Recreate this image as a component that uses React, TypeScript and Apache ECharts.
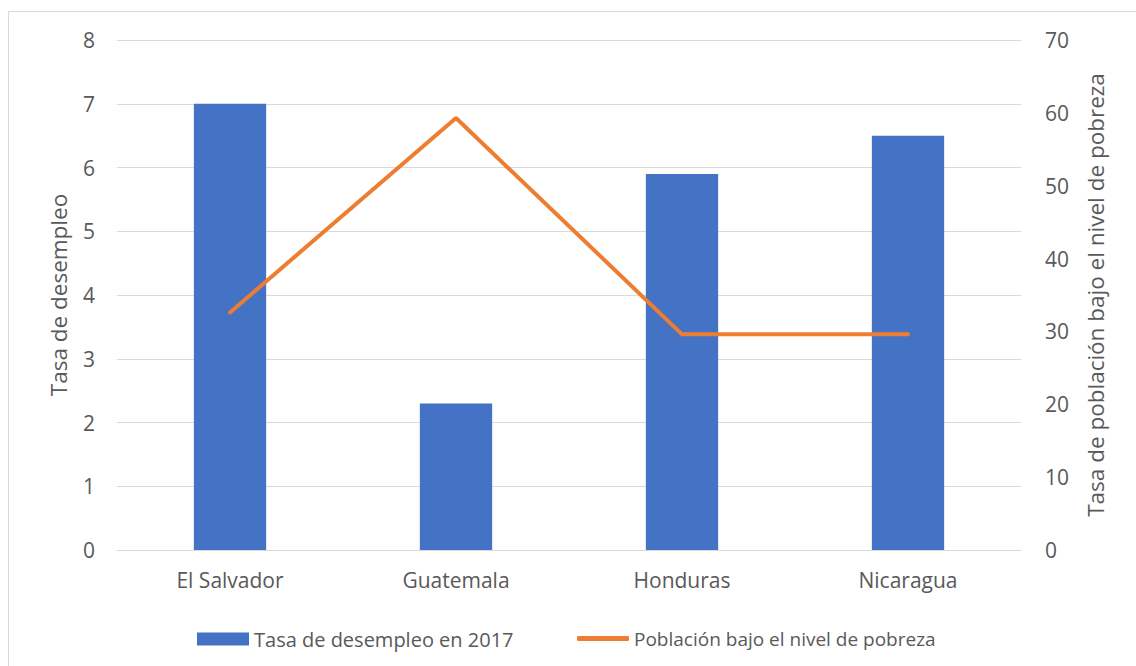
import React, { useEffect, useRef } from "react";
import * as echarts from "echarts";

const categories = ["El Salvador", "Guatemala", "Honduras", "Nicaragua"];
const desempleo = [7, 2.3, 5.9, 6.5];
const pobreza = [32.6, 59.3, 29.6, 29.6];
const leftTicks = { min: 0, max: 8, interval: 1 };
const rightTicks = { min: 0, max: 70, interval: 10 };
const barName = "Tasa de desempleo en 2017";
const lineName = "Población bajo el nivel de pobreza";

const FONT = "'Open Sans', 'Noto Sans', sans-serif";
const TXT = "#595959";

export default function App() {
  const ref = useRef<HTMLDivElement>(null);
  useEffect(() => {
    const chart = echarts.init(ref.current!, null, { renderer: "svg" });
    chart.setOption({
      animation: false,
      backgroundColor: "#ffffff",
      textStyle: { fontFamily: FONT, color: TXT },
      graphic: [
        {
          type: "rect",
          shape: { x: 8.5, y: 11.5, width: 1140, height: 680 },
          style: { fill: "none", stroke: "#d9d9d9", lineWidth: 1 },
          silent: true,
        },
      ],
      grid: { left: 117, right: 115, top: 40, bottom: 116, containLabel: false },
      legend: [
        {
          left: 192,
          top: 624,
          itemWidth: 52,
          itemHeight: 13,
          textStyle: { fontFamily: FONT, fontSize: 20, color: TXT },
          data: [{ name: barName, icon: "rect" }],
        },
        {
          left: 572,
          top: 624,
          itemWidth: 52,
          itemHeight: 5,
          textStyle: { fontFamily: FONT, fontSize: 19, color: TXT },
          data: [{ name: lineName, icon: "roundRect" }],
        },
      ],
      xAxis: {
        type: "category",
        data: categories,
        axisLine: { show: true, lineStyle: { color: "#d9d9d9", width: 1 } },
        axisTick: { show: false },
        axisLabel: { color: TXT, fontSize: 21, fontFamily: FONT, margin: 19 },
      },
      yAxis: [
        {
          type: "value",
          ...leftTicks,
          name: "Tasa de desempleo",
          nameLocation: "middle",
          nameGap: 47,
          nameTextStyle: { color: TXT, fontSize: 22.5, fontFamily: FONT },
          axisLine: { show: false },
          axisTick: { show: false },
          axisLabel: { color: TXT, fontSize: 21, fontFamily: FONT, margin: 22 },
          splitLine: { lineStyle: { color: "#d9d9d9", width: 1 } },
        },
        {
          type: "value",
          ...rightTicks,
          position: "right",
          name: "Tasa de población bajo el nivel de pobreza",
          nameLocation: "middle",
          nameGap: 63,
          nameRotate: 90,
          nameTextStyle: { color: TXT, fontSize: 22.5, fontFamily: FONT },
          axisLine: { show: false },
          axisTick: { show: false },
          axisLabel: { color: TXT, fontSize: 21, fontFamily: FONT, margin: 24 },
          splitLine: { show: false },
        },
      ],
      series: [
        {
          name: barName,
          type: "bar",
          data: desempleo,
          yAxisIndex: 0,
          barWidth: "32%",
          itemStyle: { color: "#4472C4" },
        },
        {
          name: lineName,
          type: "line",
          data: pobreza,
          yAxisIndex: 1,
          symbol: "none",
          lineStyle: { color: "#ED7D31", width: 4, cap: "round" },
          itemStyle: { color: "#ED7D31" },
        },
      ],
    });
    return () => chart.dispose();
  }, []);
  return (
    <div
      ref={ref}
      style={{ position: "fixed", left: 0, top: 0, width: 1136, height: 666 }}
    />
  );
}
